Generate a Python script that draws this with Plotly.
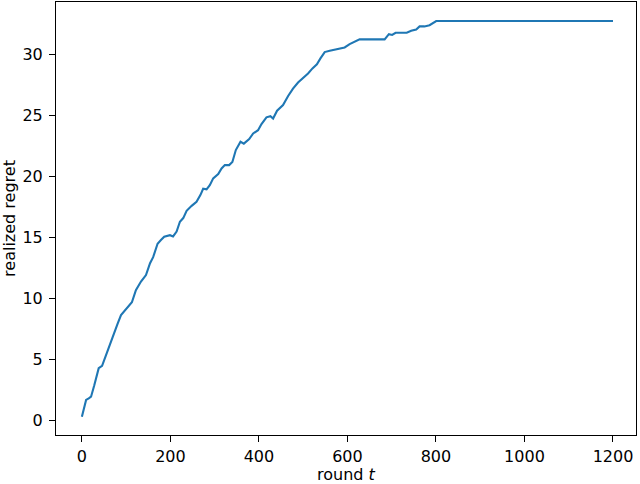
import plotly.graph_objects as go

# Values
ROUNDS = [
    0, 9.5, 15.5, 20.7, 28, 38, 45.6, 54.6, 62, 71, 81, 88.4, 96, 107, 113,
    122, 133.5, 144.8, 154, 161, 171, 178.6, 186, 199, 206, 214, 221.5, 229,
    236.6, 248, 259, 268, 274, 281.7, 289, 296.7, 308, 315.6, 323, 332.7, 340,
    347.8, 358.4, 365.9, 378, 387, 398, 405.8, 417, 426, 432, 441, 447, 454.5,
    466, 477, 488.4, 499.7, 511, 521, 531, 539, 548.6, 560, 571, 582.4, 593.7,
    605, 616, 627.5, 650, 684, 693.7, 701, 708.8, 721.6, 734, 744, 755.4, 763,
    774, 785.5, 794.5, 800.6, 900, 1000, 1100, 1200,
]
REGRET = [
    0.33, 1.7, 1.83, 1.97, 2.9, 4.3, 4.5, 5.4, 6.2, 7.16, 7.98, 8.66, 9.0, 9.53,
    9.7, 10.7, 11.4, 11.93, 12.9, 13.4, 14.5, 14.8, 15.07, 15.2, 15.1, 15.5,
    16.3, 16.6, 17.2, 17.6, 17.94, 18.5, 19.0, 18.95, 19.3, 19.85, 20.2, 20.67,
    20.94, 20.94, 21.2, 22.17, 22.85, 22.7, 23.07, 23.53, 23.8, 24.3, 24.85,
    24.95, 24.76, 25.4, 25.6, 25.86, 26.6, 27.2, 27.7, 28.04, 28.45, 28.86,
    29.2, 29.68, 30.2, 30.3, 30.4, 30.5, 30.58, 30.85, 31.04, 31.24, 31.24,
    31.24, 31.67, 31.6, 31.78, 31.78, 31.78, 31.94, 32.05, 32.3, 32.3, 32.4,
    32.6, 32.74, 32.74, 32.74, 32.74, 32.74,
]
X_TICKS = [0, 200, 400, 600, 800, 1000, 1200]
Y_TICKS = [0, 5, 10, 15, 20, 25, 30]

FONT = "DejaVu Sans"
FONT_SIZE = 16

fig = go.Figure()
fig.add_trace(
    go.Scatter(
        x=ROUNDS,
        y=REGRET,
        mode="lines",
        line=dict(color="#1f77b4", width=2.1),
        showlegend=False,
    )
)

axis_style = dict(
    automargin=False,
    showgrid=False,
    zeroline=False,
    showline=True,
    mirror=True,
    linecolor="black",
    linewidth=1,
    ticks="outside",
    ticklen=6,
    tickwidth=1,
    tickcolor="black",
    tickfont=dict(family=FONT, size=FONT_SIZE, color="black"),
)

fig.update_layout(
    width=640,
    height=484,
    paper_bgcolor="white",
    plot_bgcolor="white",
    margin=dict(l=56, r=4, t=2, b=49),
    font=dict(family=FONT, size=FONT_SIZE, color="black"),
)
fig.update_xaxes(
    **axis_style,
    range=[-58.5, 1252],
    tickvals=X_TICKS,
    ticklabelstandoff=1,
)
fig.update_yaxes(
    **axis_style,
    range=[-1.17, 34.3],
    tickvals=Y_TICKS,
    ticklabelstandoff=3,
    title=dict(text="realized regret", standoff=4,
               font=dict(family=FONT, size=FONT_SIZE)),
)

# x title as an annotation: axis title standoff is ignored without automargin
fig.add_annotation(
    text="round <i>t</i>",
    xref="paper", yref="paper",
    x=0.5, y=0,
    xanchor="center", yanchor="top",
    yshift=-28,
    showarrow=False,
    font=dict(family=FONT, size=FONT_SIZE, color="black"),
)

# drop the browser's default body margin so the figure sits at the page corner
fig.write_html(
    "out.html",
    config={"displayModeBar": False},
    post_script="document.body.style.margin='0';",
)
